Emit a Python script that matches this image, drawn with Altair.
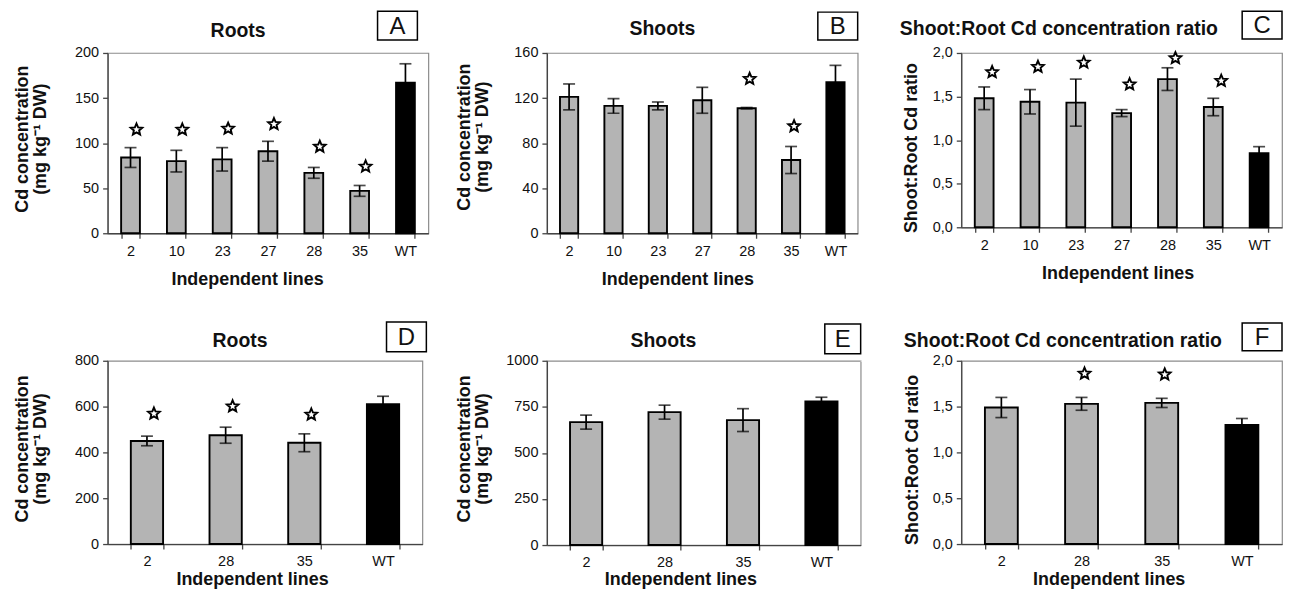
import math
import altair as alt
import pandas as pd

FONT = "Liberation Sans"
GRAY = "#b4b4b4"

# ---------------- data ----------------
lines_6 = ["2", "10", "23", "27", "28", "35", "WT"]
lines_3 = ["2", "28", "35", "WT"]

# A  Roots (first experiment)
a_mean = [84, 80, 82, 91, 67, 47, 167]
a_err = [11, 12, 13, 11, 6, 6, 21]
a_star = [115, 115, 116, 121, 96, 74, None]
a_ticks = [0, 50, 100, 150, 200]

# B  Shoots (first experiment)
b_mean = [121, 113, 113, 118, 111, 65, 134]
b_err = [11.5, 6.5, 3.5, 11.5, 0.6, 12, 15]
b_star = [None, None, None, None, 137, 95, None]
b_ticks = [0, 40, 80, 120, 160]

# C  Shoot:Root ratio (first experiment)
c_mean = [1.48, 1.44, 1.43, 1.31, 1.70, 1.38, 0.85]
c_err = [0.13, 0.14, 0.27, 0.04, 0.13, 0.10, 0.075]
c_star = [1.78, 1.84, 1.89, 1.64, 1.94, 1.68, None]
c_ticks = [0, 0.5, 1.0, 1.5, 2.0]

# D  Roots (second experiment)
d_mean = [450, 475, 442, 610]
d_err = [21, 35, 39, 35]
d_star = [569, 601, 565, None]
d_ticks = [0, 200, 400, 600, 800]

# E  Shoots (second experiment)
e_mean = [667, 721, 678, 779]
e_err = [38, 38, 62, 23]
e_star = [None, None, None, None]
e_ticks = [0, 250, 500, 750, 1000]

# F  Shoot:Root ratio (second experiment)
f_mean = [1.49, 1.53, 1.54, 1.30]
f_err = [0.11, 0.07, 0.05, 0.07]
f_star = [None, 1.86, 1.85, None]
f_ticks = [0, 0.5, 1.0, 1.5, 2.0]

CONC_TITLE = ["Cd concentration", "(mg kg\u207b\u00b9 DW)"]
RATIO_TITLE = "Shoot:Root Cd ratio"
X_TITLE = "Independent lines"
RATIO_MAIN = "Shoot:Root Cd concentration ratio"

# five-pointed star symbol path
_pts = []
for i in range(10):
    r = 1.0 if i % 2 == 0 else 0.45
    ang = -math.pi / 2 + i * math.pi / 5
    _pts.append(f"{r * math.cos(ang):.3f},{r * math.sin(ang):.3f}")
STAR = "M" + " L".join(_pts) + " Z"

# layout anchors (pixel extents of each grid cell)
TOP0, TOP1 = 43, 40
BOTTOM0 = 267


def panel(lines, mean, err, star, ticks, ytitle, title, letter, w, h,
          title_pos, box, xt_pos, yt_pos, star_dx, top, left, right=None,
          bottom=None, comma=False):
    df = pd.DataFrame({
        "line": lines,
        "mean": mean,
        "lo": [m - e for m, e in zip(mean, err)],
        "hi": [m + e for m, e in zip(mean, err)],
    })
    sdf = pd.DataFrame({"line": lines, "star": star}).dropna()

    xscale = alt.Scale(domain=lines, paddingInner=0.59, paddingOuter=0.295)
    xaxis = alt.Axis(title=X_TITLE, labelAngle=0, tickBand="extent",
                     titleX=xt_pos[0], titleY=xt_pos[1], titleAlign="center",
                     titleBaseline="alphabetic", titleFontSize=18,
                     labelPadding=6)
    yscale = alt.Scale(domain=[ticks[0], ticks[-1]], nice=False, zero=True)
    yaxis_kw = dict(title=ytitle, values=ticks, titleX=yt_pos[0], titleY=yt_pos[1],
                    titleAngle=270, titleAlign="center", titleBaseline="alphabetic",
                    titleLineHeight=18, titleFontSize=18, labelPadding=4)
    if comma:
        yaxis_kw["labelExpr"] = "replace(format(datum.value, '.1f'), '.', ',')"
    else:
        yaxis_kw["format"] = "d"
    yaxis = alt.Axis(**yaxis_kw)

    def X():
        return alt.X("line:N", sort=lines, scale=xscale, axis=xaxis)

    def Y(field):
        return alt.Y(f"{field}:Q", scale=yscale, axis=yaxis)

    base = alt.Chart(df)
    bars = base.mark_bar(stroke="black", strokeWidth=1.9).encode(
        x=X(), y=Y("mean"),
        color=alt.condition(alt.datum.line == "WT", alt.value("black"), alt.value(GRAY)),
    )
    rule = base.mark_rule(color="black", strokeWidth=1.7).encode(
        x=X(), y=Y("lo"), y2="hi:Q")
    cap_lo = base.mark_tick(color="black", thickness=1.7, size=12).encode(x=X(), y=Y("lo"))
    cap_hi = base.mark_tick(color="black", thickness=1.7, size=12).encode(x=X(), y=Y("hi"))
    layers = [bars, rule, cap_lo, cap_hi]

    if len(sdf):
        stars = alt.Chart(sdf).mark_point(
            shape=STAR, filled=True, fill="white", stroke="black",
            strokeWidth=1.9, size=150, opacity=1, xOffset=star_dx,
        ).encode(x=X(), y=Y("star"))
        layers.append(stars)

    one = alt.Chart(pd.DataFrame({"k": [0]}))
    ttl = one.mark_text(text=title, font=FONT, fontSize=19.5, fontWeight="bold",
                        align="center", baseline="alphabetic", color="#111").encode(
        x=alt.value(title_pos[0]), y=alt.value(title_pos[1]))
    rect = one.mark_rect(fill="white", stroke="black", strokeWidth=1.5).encode(
        x=alt.value(box[0]), x2=alt.value(box[1]), y=alt.value(box[2]), y2=alt.value(box[3]))
    let = one.mark_text(text=letter, font=FONT, fontSize=24, align="center",
                        baseline="middle", color="#111").encode(
        x=alt.value((box[0] + box[1]) / 2), y=alt.value((box[2] + box[3]) / 2 + 1))
    layers += [ttl, rect, let]

    # invisible white anchors that fix the extent of the grid cell
    anc = one.mark_rect(fill="white").encode(
        x=alt.value(-left), x2=alt.value(-left + 1), y=alt.value(-top), y2=alt.value(-top + 1))
    layers.append(anc)
    if right is not None or bottom is not None:
        rx = right if right is not None else 1
        by = bottom if bottom is not None else 1
        anc2 = one.mark_rect(fill="white").encode(
            x=alt.value(rx - 1), x2=alt.value(rx), y=alt.value(by - 1), y2=alt.value(by))
        layers.append(anc2)

    return alt.layer(*layers).properties(width=w, height=h)


A = panel(lines_6, a_mean, a_err, a_star, a_ticks, CONC_TITLE, "Roots", "A", 322, 181,
          (131, -16), (271, 311, -42, -13), (140, 51), (-80, 86), 6,
          top=TOP0, left=99, right=339, bottom=BOTTOM0)
B = panel(lines_6, b_mean, b_err, b_star, b_ticks, CONC_TITLE, "Shoots", "B", 312, 181,
          (116, -18), (272, 312, -41, -13), (131, 51), (-78, 84), 3,
          top=TOP0, left=100, right=316, bottom=BOTTOM0)
C = panel(lines_6, c_mean, c_err, c_star, c_ticks, RATIO_TITLE, RATIO_MAIN, "C", 322, 175,
          (98, -18), (282, 322, -42, -14), (157, 51), (-45, 95), 8,
          top=TOP0, left=98, bottom=BOTTOM0, comma=True)
D = panel(lines_3, d_mean, d_err, d_star, d_ticks, CONC_TITLE, "Roots", "D", 316, 184,
          (133, -14), (280, 320, -39, -9), (145, 41), (-80, 88), 7,
          top=TOP1, left=99, right=339)
E = panel(lines_3, e_mean, e_err, e_star, e_ticks, CONC_TITLE, "Shoots", "E", 315, 185,
          (117, -14), (279, 315, -37, -7), (134, 40), (-78, 88), 0,
          top=TOP1, left=100, right=316)
F = panel(lines_3, f_mean, f_err, f_star, f_ticks, RATIO_TITLE, RATIO_MAIN, "F", 322, 184,
          (102, -14), (282, 322, -38, -10), (148, 41), (-44, 99), 3,
          top=TOP1, left=98, comma=True)

chart = alt.concat(
    A, B, C, D, E, F,
    columns=3, spacing=0, align="each",
).properties(
    padding=0
).configure_view(
    stroke="#8c8c8c", strokeWidth=1.2
).configure_axis(
    domainColor="#444", tickColor="#444", domainWidth=1.3, tickWidth=1.3, tickSize=5,
    labelFont=FONT, labelFontSize=14.5, labelColor="#111",
    titleFont=FONT, titleFontWeight="bold", titleColor="#111", grid=False,
)

chart.save("out.html", embed_options={"renderer": "svg", "actions": False})
